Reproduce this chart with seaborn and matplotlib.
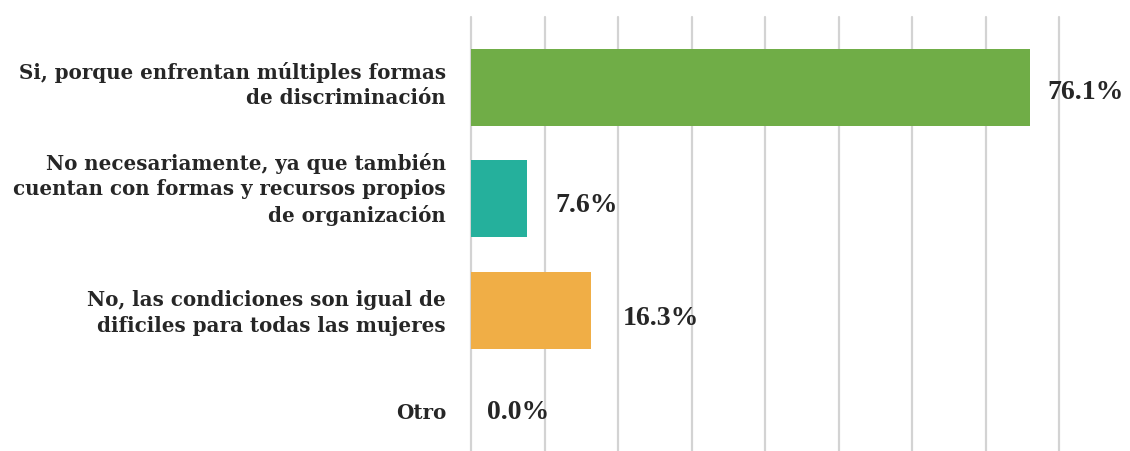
import matplotlib
matplotlib.use("Agg")
import matplotlib.pyplot as plt
import matplotlib.transforms as mtransforms
import seaborn as sns
import pandas as pd

categorias = [
    "Si, porque enfrentan múltiples formas\nde discriminación",
    "No necesariamente, ya que también\ncuentan con formas y recursos propios\nde organización",
    "No, las condiciones son igual de\ndificiles para todas las mujeres",
    "Otro",
]
porcentajes = [76.1, 7.6, 16.3, 0.0]
colores = ["#70AD47", "#25B09C", "#F0AE46", "#A5A5A5"]

df = pd.DataFrame({"cat": categorias, "pct": porcentajes})

sns.set_theme(style="white")
plt.rcParams["font.family"] = ["DejaVu Serif", "Liberation Serif"]

fig = plt.figure(figsize=(11.3, 4.52), dpi=100)
ax = fig.add_axes([471 / 1130, 0, (1059 - 471) / 1130, 1 - 18 / 452])

sns.barplot(data=df, x="pct", y="cat", hue="cat", palette=colores,
            legend=False, width=0.69, ax=ax, saturation=1, linewidth=0)

ax.set_xlim(0, 80)
ax.set_ylim(3.26, -0.63)
ax.set_xticks(range(0, 81, 10))
ax.xaxis.grid(True, color="#D3D3D3", linewidth=1.6)
for gl in ax.get_xgridlines():
    gl.set_clip_on(False)
ax.set_axisbelow(True)
ax.set_xticklabels([])
ax.tick_params(axis="x", length=0)
ax.tick_params(axis="y", length=0, pad=18)
for s in ax.spines.values():
    s.set_visible(False)
ax.set_xlabel("")
ax.set_ylabel("")

# desplazamiento vertical de las etiquetas de categoria (px hacia arriba)
subir_px = [8, 15, 3, 12]
for lab, d in zip(ax.get_yticklabels(), subir_px):
    lab.set_fontsize(14.3)
    lab.set_fontweight("bold")
    lab.set_color("#262626")
    lab.set_ha("right")
    lab.set_multialignment("right")
    lab.set_linespacing(1.33)
    t = mtransforms.ScaledTranslation(0, d / 100, fig.dpi_scale_trans)
    lab.set_transform(lab.get_transform() + t)

# separacion de las etiquetas de valor (px)
sep_x = [17, 29, 32, 16]
sep_y = [-4, -6, -7, 10]
for i, v in enumerate(porcentajes):
    ax.annotate(f"{v:.1f}%", xy=(v, i), xytext=(sep_x[i] * 0.72, sep_y[i] * 0.72),
                textcoords="offset points", ha="left", va="center",
                fontsize=20, fontweight="bold", family="Liberation Serif",
                color="#262626", annotation_clip=False)

fig.savefig("out.png", dpi=100)
